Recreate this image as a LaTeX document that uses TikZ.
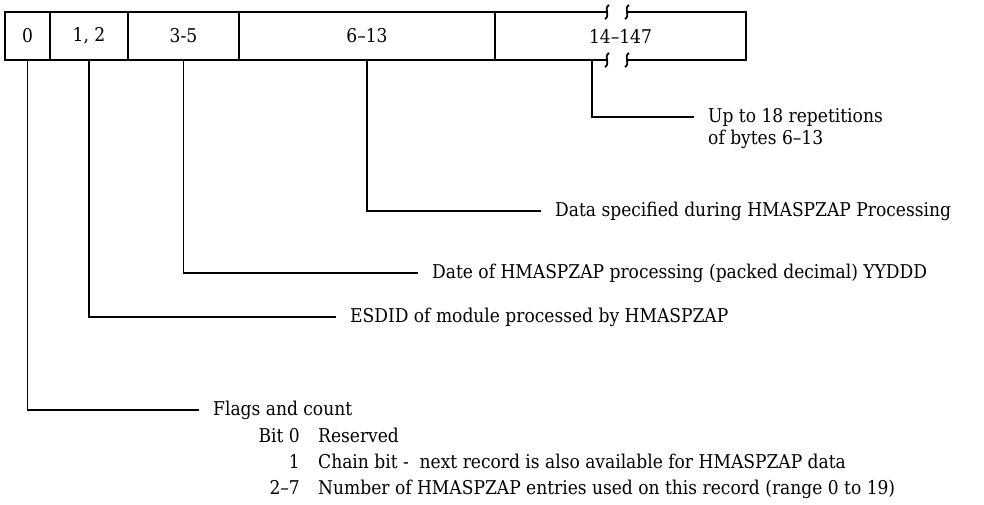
\documentclass[tikz,border=0pt]{standalone}
\usepackage{fontspec}
\setmainfont{DejaVu Serif Condensed}
\usetikzlibrary{positioning}

\tikzset{
  field/.style={draw,line width=2.4pt,outer sep=0pt,inner sep=0pt,minimum height=48pt,font=\fontsize{19}{23}\selectfont},
  lbl/.style={anchor=base west,inner xsep=14pt,inner ysep=4pt,font=\fontsize{19}{23}\selectfont},
  bitno/.style={anchor=base east,inner sep=0pt,font=\fontsize{19}{23}\selectfont},
  bittx/.style={anchor=base west,inner sep=0pt,font=\fontsize{19}{23}\selectfont},
  lead/.style={line width=1.8pt},
  brk/.pic={\draw[line width=1.8pt] (2,-7) .. controls (-4,-3) and (4,3) .. (-2,7);}
}

\begin{document}
\begin{tikzpicture}[x=1pt,y=-1pt]
  \useasboundingbox (0,0) rectangle (984,504);
  % the record
  \node[field,minimum width=45pt] (f0) at (27.5,36) {0};
  \node[field,minimum width=78pt,right=0pt of f0] (f12) {1, 2};
  \node[field,minimum width=111pt,right=0pt of f12] (f35) {3-5};
  \node[field,minimum width=256pt,right=0pt of f35] (f613) {6--13};
  \node[field,draw=none,minimum width=251pt,right=0pt of f613] (f14) {14--147};
  \path (f14.north west) ++(112,0) coordinate (b1) ++(20,0) coordinate (b2)
        (f14.south west) ++(112,0) coordinate (b3) ++(20,0) coordinate (b4)
        (f14.south west) ++(97,0) coordinate (c14);
  \draw[line width=2.4pt] (f14.north west) -- (b1) (b2) -- (f14.north east)
    -- (f14.south east) -- (b4) (b3) -- (f14.south west);
  \foreach \b in {b1,b2,b3,b4} \pic at (\b) {brk};
  % descriptions
  \node[lbl] (rep) at (694,122) {Up to 18 repetitions};
  \node[lbl] (rep2) at (694,144) {of bytes 6--13};
  \node[lbl] (data) at (541,216) {Data specified during HMASPZAP Processing};
  \node[lbl] (date) at (418,278) {Date of HMASPZAP processing (packed decimal) YYDDD};
  \node[lbl] (esdid) at (336,322) {ESDID of module processed by HMASPZAP};
  \node[lbl] (flags) at (199,415) {Flags and count};
  \foreach \n/\t [count=\i] in {Bit 0/Reserved,
      1/Chain bit -\ \ next record is also available for HMASPZAP data,
      2--7/Number of HMASPZAP entries used on this record (range 0 to 19)} {
    \node[bitno] (bitno\i) at (300,416+26*\i) {\n};
    \node[bittx] (bittx\i) at (318,416+26*\i) {\t};
  }
  % leaders
  \draw[lead] (f0.south) |- (flags.west);
  \draw[lead] (f12.south) |- (esdid.west);
  \draw[lead] (f35.south) |- (date.west);
  \draw[lead] (f613.south) |- (data.west);
  \draw[lead] (c14) |- (rep.west);
\end{tikzpicture}
\end{document}
